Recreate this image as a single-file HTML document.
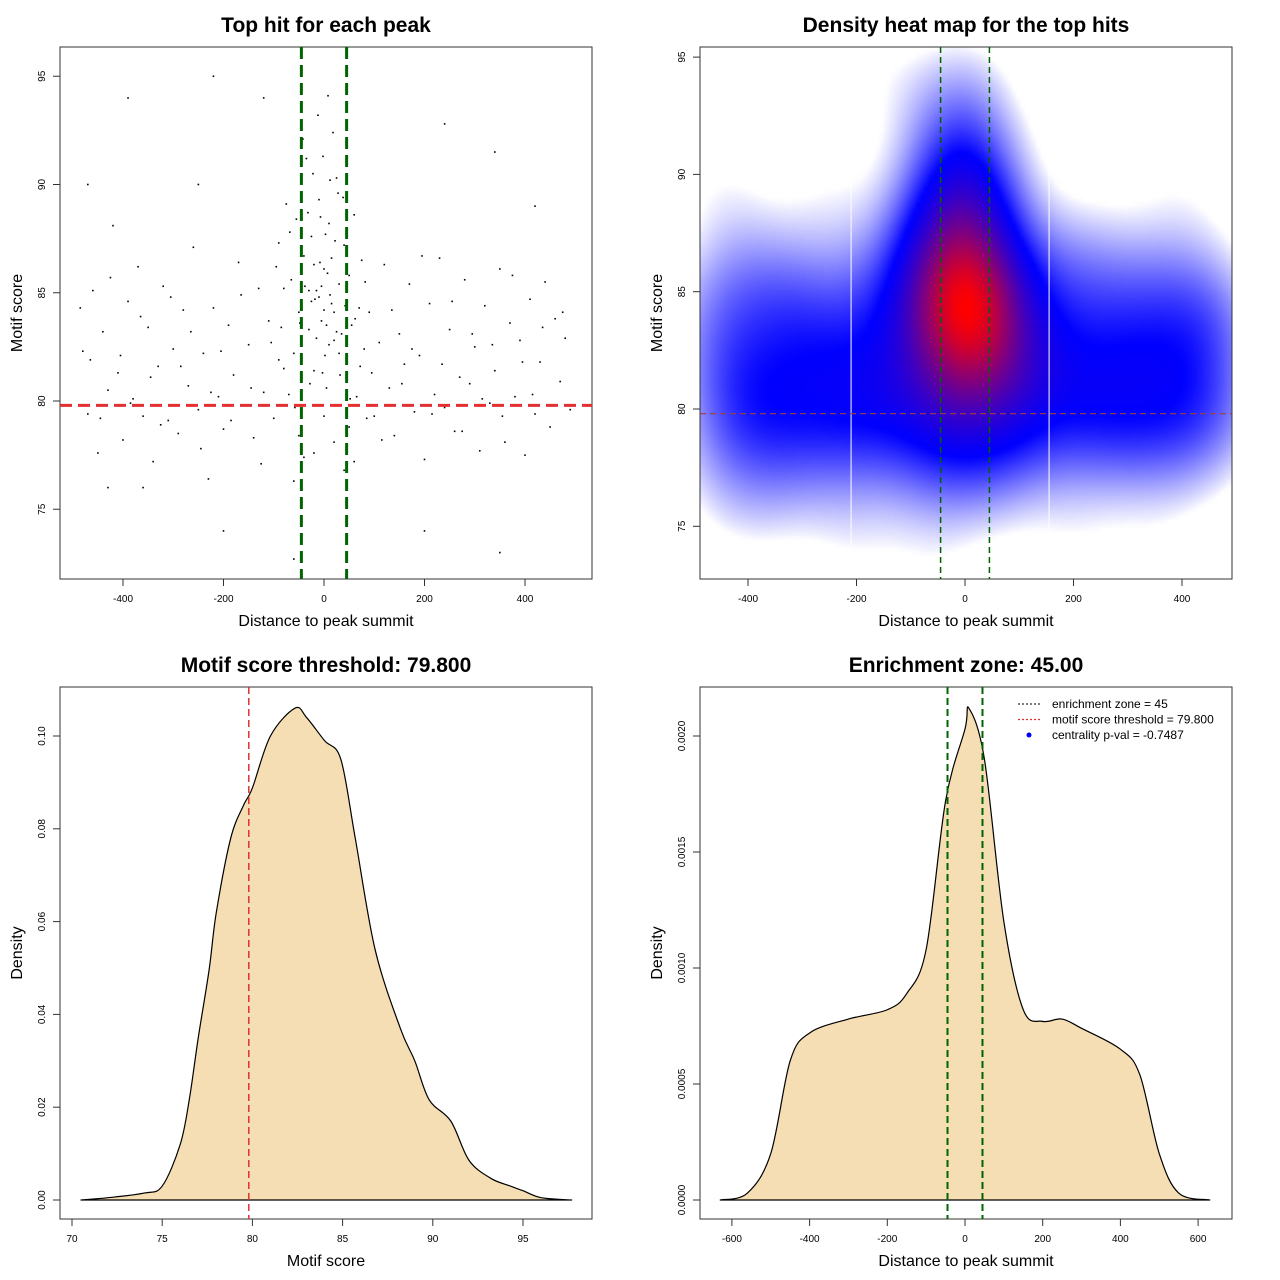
<!DOCTYPE html>
<html><head><meta charset="utf-8"><style>
html,body{margin:0;padding:0;background:#fff;}
#wrap{position:relative;width:1280px;height:1280px;overflow:hidden;font-family:"Liberation Sans",sans-serif;}
#heat{position:absolute;left:700px;top:47px;width:532px;height:532px;}
#svg{position:absolute;left:0;top:0;}
</style></head><body>
<div id="wrap">
<canvas id="heat" width="133" height="133"></canvas>
<svg id="svg" width="1280" height="1280" xmlns="http://www.w3.org/2000/svg"></svg>
</div>
<script>
// ---- data ----
const hitDist = [-480,-470,-460,-450,-440,-430,-420,-410,-400,-390,-380,-370,-360,-350,-340,-330,-320,-310,-300,-290,-280,-270,-260,-250,-240,-230,-220,-210,-200,-190,-180,-170,-160,-150,-140,-130,-120,-110,-100,-90,-80,
90,100,110,120,130,140,150,160,170,180,190,200,210,220,230,240,250,260,270,280,290,300,310,320,330,340,350,360,370,380,390,400,410,420,430,440,450,460,470,480,490,
-485,-465,-445,-425,-405,-385,-365,-345,-325,-305,-285,-265,-245,-225,-205,-185,-165,-145,-125,-105,95,115,135,155,175,195,215,235,255,275,295,315,335,355,375,395,415,435,455,475,
-470,-390,-220,-120,-360,-200,-60,200,350,340,240,-250,420,-430,
-95,-85,-75,-70,-65,-60,-55,-50,-45,-40,-35,-30,-25,-20,-15,-10,-5,0,5,10,15,20,25,30,35,40,45,50,55,60,65,70,75,80,85,-90,-80,-68,-58,-48,-38,-28,-18,-8,2,12,22,32,42,52,62,72,82,-42,-12,8,18,-2,28,-22,12,-32,38,0,-5,5,10,-10,15,-15,20,-20,25,-25,3,-3,7,-7,30,-30,-50,50,0,20,-20,60,-60,40,-40];
const hitScore = [82.3,79.4,85.1,77.6,83.2,80.5,88.1,81.3,78.2,84.6,80.1,86.2,79.3,83.4,77.2,81.6,85.3,79.1,82.4,78.5,84.2,80.7,87.1,79.6,82.2,76.4,84.3,80.2,78.7,83.5,81.2,86.4,79.8,82.6,78.3,85.2,80.4,83.7,79.2,87.3,81.5,
84.1,79.3,82.7,86.3,80.6,78.4,83.1,81.7,85.4,79.5,82.1,77.3,84.5,80.3,86.6,79.7,83.3,78.6,81.1,85.6,80.8,82.5,77.7,84.4,79.9,81.4,86.1,78.1,83.6,80.2,82.8,77.5,84.7,79.4,81.8,85.5,78.8,83.8,80.9,82.9,79.6,
84.3,81.9,79.2,85.7,82.1,79.9,83.9,81.1,78.9,84.8,81.6,83.2,77.8,80.4,82.3,79.1,84.9,80.6,77.1,82.7,81.3,78.2,84.2,80.8,82.4,86.7,79.4,81.7,84.6,78.6,83.1,80.1,82.6,79.3,85.8,81.8,80.3,83.4,79.8,84.1,
90,94,95,94,76,74,72.7,74,73,91.5,92.8,90,89,76,
86.2,83.4,89.1,80.3,85.6,82.2,88.4,84.1,79.5,86.7,91.2,83.3,87.6,81.4,85.1,89.3,83.7,86.1,80.6,88.2,84.5,82.8,90.3,85.4,83.1,87.2,81.7,85.8,83.5,88.6,80.2,84.3,86.5,82.4,79.2,81.9,85.2,87.8,79.7,83.6,85.3,80.8,84.7,86.4,82.1,84.9,87.4,81.2,84.4,80.1,83.8,81.6,85.5,92.1,93.2,94.1,92.4,91.3,89.6,90.5,90.2,88.7,89.4,84.2,85.3,83.5,82.6,84.8,86.6,82.9,84.1,86.3,83.2,84.6,87.7,81.3,85.9,88.5,82.2,85.1,78.4,78.8,79.3,78.1,77.6,77.2,76.3,76.8,77.4];
const scoreX = [70.5,72,74,75,76,76.5,77,77.6,78,78.8,79.5,80,81,82.36,83,84,84.9,85.7,86.8,88.2,89,89.8,91,92,93.2,94.3,95,96,97.7];
const scoreDensity = [0,0.0005,0.0015,0.003,0.012,0.0216,0.035,0.0496,0.062,0.078,0.085,0.0888,0.1,0.106,0.104,0.099,0.095,0.078,0.054,0.037,0.03,0.0216,0.017,0.0086,0.0047,0.003,0.002,0.0005,0];
const distX = [-630,-560,-500,-450,-400,-300,-200,-150,-100,-50,0,10,50,100,150,200,250,300,400,450,500,550,630];
const distDensity = [0,0.00003,0.0002,0.0006,0.00072,0.00078,0.00082,0.00089,0.00108,0.00172,0.00203,0.00212,0.0019,0.0012,0.00082,0.00077,0.00078,0.00074,0.00065,0.00054,0.0002,0.00003,0];
const ticks1X = [-400,-200,0,200,400];
const ticks1Y = [75,80,85,90,95];
const ticks3X = [70,75,80,85,90,95];
const ticks3Y = [0,0.02,0.04,0.06,0.08,0.10];
const ticks3YLab = ["0.00","0.02","0.04","0.06","0.08","0.10"];
const ticks4X = [-600,-400,-200,0,200,400,600];
const ticks4Y = [0,0.0005,0.001,0.0015,0.002];
const ticks4YLab = ["0.0000","0.0005","0.0010","0.0015","0.0020"];
const threshold = 79.8, zone = 45;

// ---- scales ----
const sx1=v=>324+v*0.5025, sy1=v=>401-(v-80)*21.65;
const sx2=v=>965+v*0.5425, sy2=v=>409-(v-80)*23.46;
const sx3=v=>72+(v-70)*18.04, sy3=v=>1200-v*4640;
const sx4=v=>965+v*0.3885, sy4=v=>1200-v*232000;

const svg=document.getElementById('svg');
const NS='http://www.w3.org/2000/svg';
function mk(tag,attrs,parent){const e=document.createElementNS(NS,tag);for(const k in attrs)e.setAttribute(k,attrs[k]);(parent||svg).appendChild(e);return e;}
function txt(x,y,s,size,opts){const t=mk('text',Object.assign({x:x,y:y,'font-size':size,'text-anchor':'middle','font-family':'Liberation Sans, sans-serif',fill:'#000'},opts||{}));t.textContent=s;return t;}
function smooth(pts){let d='M'+pts[0][0]+','+pts[0][1];for(let i=0;i<pts.length-1;i++){const p0=pts[Math.max(0,i-1)],p1=pts[i],p2=pts[i+1],p3=pts[Math.min(pts.length-1,i+2)];
  const c1=[p1[0]+(p2[0]-p0[0])/6,p1[1]+(p2[1]-p0[1])/6],c2=[p2[0]-(p3[0]-p1[0])/6,p2[1]-(p3[1]-p1[1])/6];
  d+=' C'+c1[0]+','+c1[1]+' '+c2[0]+','+c2[1]+' '+p2[0]+','+p2[1];}return d;}

function panel(id,bx,by,title,xlab,ylab,xt,xtl,xs,yt,ytl,ys){
  const g=mk('g',{});
  
  
  const box=mk('rect',{x:bx,y:by,width:532,height:532,fill:'none',stroke:'#333','stroke-width':1},g);
  
  
  const t=txt(bx+266,by-15,title,21,{'font-weight':'bold'});g.appendChild(t);
  
  
  const xl=txt(bx+266,by+579,xlab,16);g.appendChild(xl);
  
  
  const yl=txt(0,0,ylab,16,{transform:'translate('+(bx-38)+','+(by+266)+') rotate(-90)'});g.appendChild(yl);
  
  
  const xa=mk('line',{x1:xs(xt[0]),x2:xs(xt[xt.length-1]),y1:by+532,y2:by+532,stroke:'#333'},g);
  
  
  xt.forEach((v,i)=>{
    const tk=mk('line',{x1:xs(v),x2:xs(v),y1:by+532,y2:by+539,stroke:'#333'},g);
    
    
    const l=txt(xs(v),by+555,xtl[i],10);g.appendChild(l);
    
    
  });
  const ya=mk('line',{x1:bx,x2:bx,y1:ys(yt[0]),y2:ys(yt[yt.length-1]),stroke:'#333'},g);
  
  
  yt.forEach((v,i)=>{
    const tk=mk('line',{x1:bx-7,x2:bx,y1:ys(v),y2:ys(v),stroke:'#333'},g);
    
    
    const l=txt(0,0,ytl[i],10,{transform:'translate('+(bx-15)+','+ys(v)+') rotate(-90)'});g.appendChild(l);
    
    
  });
  return g;
}
function clip(id,x,y){const cp=mk('clipPath',{id:id});mk('rect',{x:x,y:y,width:532,height:532},cp);}

// Panel 1
const p1=panel('scatter-panel',60,47,'Top hit for each peak','Distance to peak summit','Motif score',ticks1X,ticks1X.map(String),sx1,ticks1Y,ticks1Y.map(String),sy1);
clip('c1',60,47);
const dots=mk('g',{'clip-path':'url(#c1)'},p1);
hitDist.forEach((d,i)=>{
  const c=mk('rect',{x:sx1(d)-0.8,y:sy1(hitScore[i])-0.8,width:1.6,height:1.6,fill:'#000'},dots);
  
  
});
[-zone,zone].forEach(z=>{
  const l=mk('line',{x1:sx1(z),x2:sx1(z),y1:47,y2:579,stroke:'#006400','stroke-width':3,'stroke-dasharray':'12,6'},p1);
  
  
});
const th1=mk('line',{x1:60,x2:592,y1:sy1(threshold),y2:sy1(threshold),stroke:'#e03030','stroke-width':3,'stroke-dasharray':'12,6'},p1);



// Panel 2 heatmap
const cv=document.getElementById('heat'),ctx=cv.getContext('2d');
const img=ctx.createImageData(133,133);const vals=[];let mx=0;
for(let j=0;j<133;j++)for(let i=0;i<133;i++){
  const px=700+i*4+2,py=47+j*4+2;
  const xv=(px-965)/0.5425,yv=80+(409-py)/23.46;
  let s=0;for(let k=0;k<hitDist.length;k++){const dx=(xv-hitDist[k])/65,dy=(yv-hitScore[k])/1.9;s+=Math.exp(-0.5*(dx*dx+dy*dy));}
  vals.push(s);if(s>mx)mx=s;
}
vals.forEach((s,n)=>{
  let t=s/mx,r,g,b;
  if(t<0.36){const u=Math.max(0,(t-0.06)/0.30);const w=1-Math.pow(u,0.8);r=255*w;g=255*w;b=255;}
  else{const u=Math.min(1,Math.pow((t-0.36)/0.64,1.2));r=255*u;g=0;b=255*(1-u);}
  img.data[n*4]=r;img.data[n*4+1]=g;img.data[n*4+2]=b;img.data[n*4+3]=255;
});
ctx.putImageData(img,0,0);
const p2=panel('heatmap-panel',700,47,'Density heat map for the top hits','Distance to peak summit','Motif score',ticks1X,ticks1X.map(String),sx2,ticks1Y,ticks1Y.map(String),sy2);
[-210,155].forEach(v=>{const l=mk('line',{x1:sx2(v),x2:sx2(v),y1:48,y2:578,stroke:'#fff','stroke-width':1},p2);
  
  });
[-zone,zone].forEach(z=>{
  const l=mk('line',{x1:sx2(z),x2:sx2(z),y1:47,y2:579,stroke:'#006400','stroke-width':1.5,'stroke-dasharray':'6,4'},p2);
  
  
});
const th2=mk('line',{x1:700,x2:1232,y1:sy2(threshold),y2:sy2(threshold),stroke:'#a04040','stroke-width':1.2,'stroke-dasharray':'6,4'},p2);



// Panel 3
const p3=panel('score-density-panel',60,687,'Motif score threshold: 79.800','Motif score','Density',ticks3X,ticks3X.map(String),sx3,ticks3Y,ticks3YLab,sy3);
const d3=smooth(scoreX.map((v,i)=>[sx3(v),sy3(scoreDensity[i])]))+' Z';
const a3=mk('path',{d:d3,fill:'#f5deb3',stroke:'#000','stroke-width':1.2,'stroke-linejoin':'round'},p3);


const th3=mk('line',{x1:sx3(threshold),x2:sx3(threshold),y1:687,y2:1219,stroke:'#e03030','stroke-width':1.5,'stroke-dasharray':'7,4'},p3);



// Panel 4
const p4=panel('distance-density-panel',700,687,'Enrichment zone: 45.00','Distance to peak summit','Density',ticks4X,ticks4X.map(String),sx4,ticks4Y,ticks4YLab,sy4);
const d4=smooth(distX.map((v,i)=>[sx4(v),sy4(distDensity[i])]))+' Z';
const a4=mk('path',{d:d4,fill:'#f5deb3',stroke:'#000','stroke-width':1.2,'stroke-linejoin':'round'},p4);


[-zone,zone].forEach(z=>{
  const l=mk('line',{x1:sx4(z),x2:sx4(z),y1:687,y2:1219,stroke:'#006400','stroke-width':2,'stroke-dasharray':'7,4'},p4);
  
  
});
const leg=mk('g',{},p4);


const legItems=['enrichment zone = 45','motif score threshold = 79.800','centrality p-val = -0.7487'];
const legCols=['#333','#e03030','#0000ff'];
legItems.forEach((s,i)=>{
  const y=704+i*15.5;
  if(i<2){const l=mk('line',{x1:1018,x2:1041,y1:y,y2:y,stroke:legCols[i],'stroke-width':1.2,'stroke-dasharray':'2,2'},leg);
    
    }
  else{const c=mk('circle',{cx:1029,cy:y,r:2.5,fill:legCols[i]},leg);
    
    }
  const t=txt(1052,y+4,s,12,{'text-anchor':'start'});leg.appendChild(t);
  
  
});
</script>
</body></html>
